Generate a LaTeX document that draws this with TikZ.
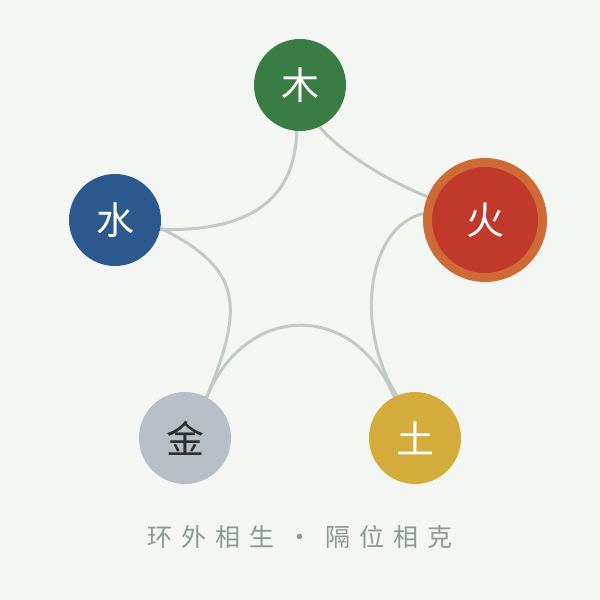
\documentclass[tikz,border=0pt]{standalone}
\usepackage{fontspec}
\newfontfamily\cjk{Noto Sans CJK SC}
\definecolor{bgc}{HTML}{F3F6F3}
\definecolor{linkc}{HTML}{C3CAC6}
\definecolor{muc}{HTML}{3A7D44}
\definecolor{shuic}{HTML}{2D5A8E}
\definecolor{huoc}{HTML}{C0392B}
\definecolor{ringc}{HTML}{CD6A35}
\definecolor{tuc}{HTML}{D3AC3C}
\definecolor{jinc}{HTML}{B8BEC5}
\definecolor{jintext}{HTML}{2A2C2E}
\definecolor{capc}{HTML}{8E9893}
\pgfdeclarelayer{bglayer}
\pgfdeclarelayer{edgelayer}
\pgfsetlayers{bglayer,edgelayer,main}
\begin{document}
\begin{tikzpicture}[x=1pt,y=1pt,
  elem/.style={circle, minimum size=92pt, inner sep=0pt, outer sep=0pt,
    font=\cjk\fontsize{38}{38}\selectfont, text=white},
  link/.style={draw=linkc, line width=3pt},
  caption/.style={font=\cjk\fontsize{25}{25}\selectfont, text=capc, inner sep=0pt}]
\begin{pgfonlayer}{bglayer}
\fill[bgc] (0,0) rectangle (600,600);
\end{pgfonlayer}
\useasboundingbox (0,0) rectangle (600,600);
\node[elem, fill=muc] (mu) at (300,515) {木};
\node[elem, fill=shuic] (shui) at (115,380) {水};
\node[elem, fill=huoc, draw=ringc, line width=9pt, minimum size=115pt, outer sep=4.5pt] (huo) at (485,380) {火};
\node[elem, fill=tuc] (tu) at (415,162) {土};
\node[elem, fill=jinc, text=jintext] (jin) at (185,162) {金};
\node[caption] (cap) at (300,63) {环\hspace{9pt}外\hspace{9pt}相\hspace{9pt}生\hspace{13pt}·\hspace{13pt}隔\hspace{9pt}位\hspace{9pt}相\hspace{9pt}克};
\begin{pgfonlayer}{edgelayer}
\draw[link] (mu.266) .. controls +(-2,-70) and +(89,-2) .. (shui.-12);
\draw[link] (mu.-65) .. controls +(18,-22) and +(-47,19) .. (huo.158);
\draw[link] (huo.174) .. controls +(-58,-14) and +(-42,65) .. (tu.113);
\draw[link] (jin.62) .. controls +(40,96) and +(-39,96) .. (tu.117);
\draw[link] (shui.-10) .. controls +(82,-41) and +(38,92) .. (jin.62);
\end{pgfonlayer}
\end{tikzpicture}
\end{document}
